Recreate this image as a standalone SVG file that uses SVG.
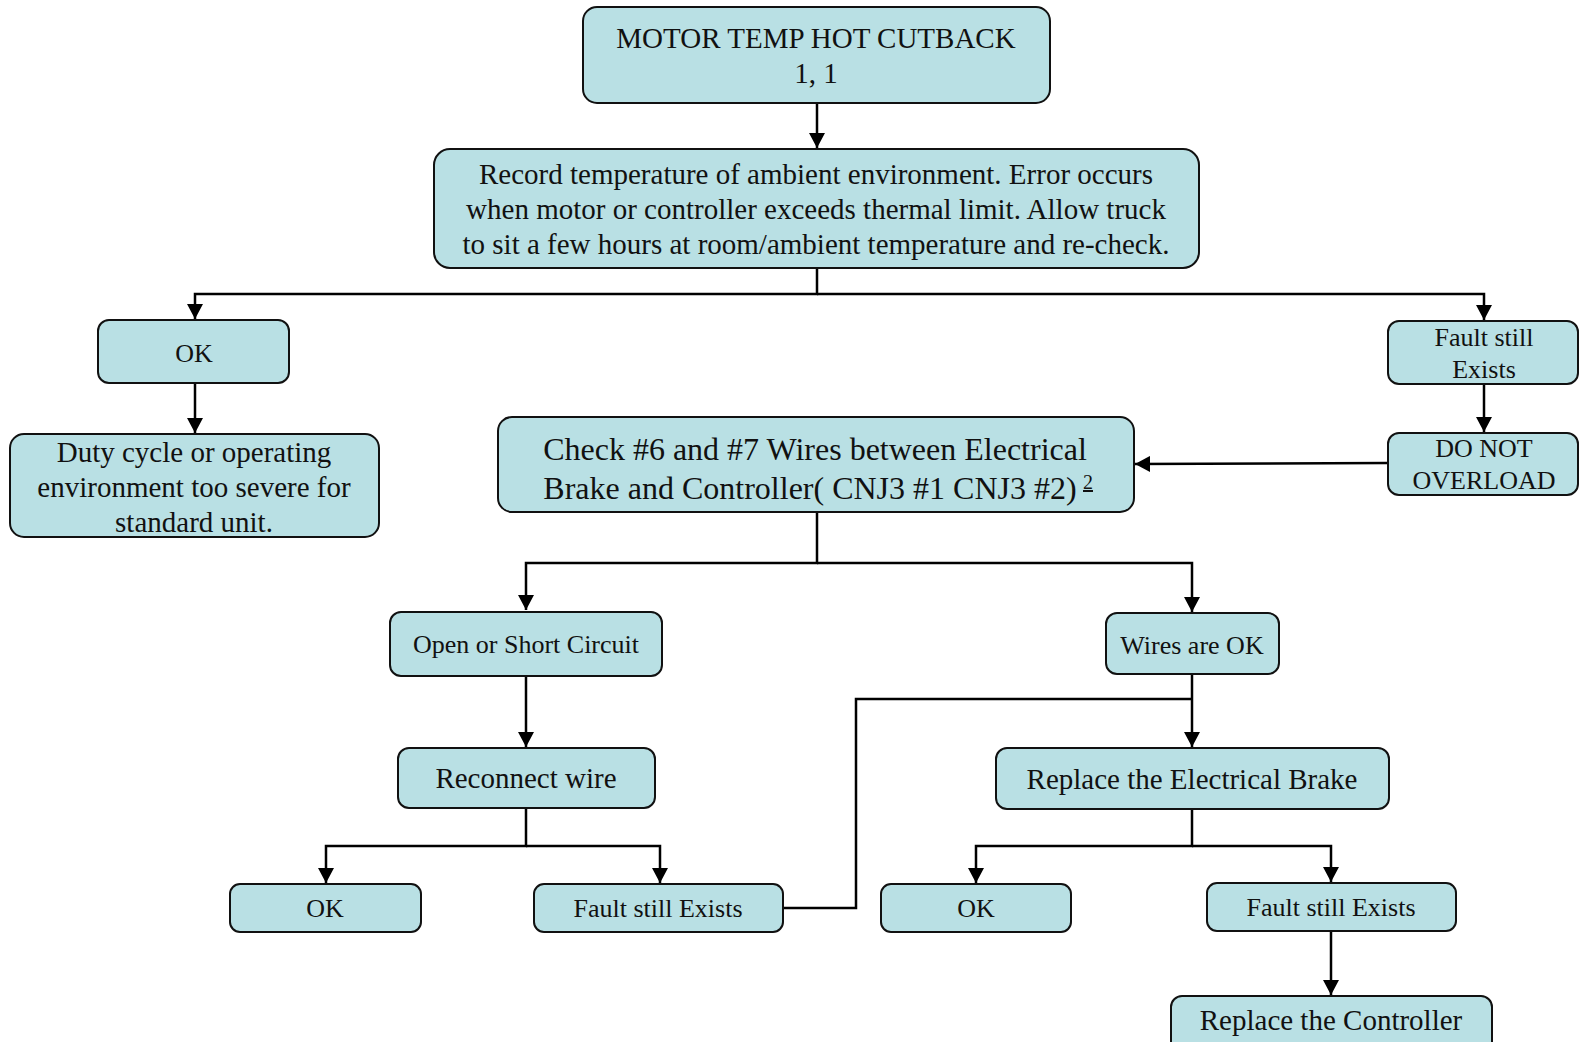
<svg xmlns="http://www.w3.org/2000/svg" width="1579" height="1042" viewBox="0 0 1579 1042">
  <style>
    .box { fill: #b9e0e4; stroke: #111; stroke-width: 2; }
    .t { font-family: "Liberation Serif", "Times New Roman", serif; fill: #111; text-anchor: middle; }
    .f29 { font-size: 29px; }
    .f26 { font-size: 26px; }
    .f32 { font-size: 32px; }
    .wire { fill: none; stroke: #000; stroke-width: 2.5; }
  </style>
  <defs>
    <marker id="arrow" markerUnits="userSpaceOnUse" markerWidth="15" markerHeight="16" refX="15" refY="8" orient="auto">
      <path d="M0,0 L15,8 L0,16 z" fill="#000"/>
    </marker>
  </defs>

  <rect width="1579" height="1042" fill="#fff"/>

  <!-- connectors -->
  <g id="connectors">
    <path class="wire" d="M817,103 V148" marker-end="url(#arrow)"/>
    <path class="wire" d="M817,268 V294 H195 V319" marker-end="url(#arrow)"/>
    <path class="wire" d="M817,294 H1484 V320" marker-end="url(#arrow)"/>
    <path class="wire" d="M195,383 V433" marker-end="url(#arrow)"/>
    <path class="wire" d="M1484,384 V432" marker-end="url(#arrow)"/>
    <path class="wire" d="M1388,463 L1135,464" marker-end="url(#arrow)"/>
    <path class="wire" d="M817,512 V563 H526 V610" marker-end="url(#arrow)"/>
    <path class="wire" d="M817,563 H1192 V612" marker-end="url(#arrow)"/>
    <path class="wire" d="M526,676 V747" marker-end="url(#arrow)"/>
    <path class="wire" d="M1192,674 V747" marker-end="url(#arrow)"/>
    <path class="wire" d="M783,908 H856 V699 H1192"/>
    <path class="wire" d="M526,808 V846 H326 V883" marker-end="url(#arrow)"/>
    <path class="wire" d="M526,846 H660 V883" marker-end="url(#arrow)"/>
    <path class="wire" d="M1192,809 V846 H976 V883" marker-end="url(#arrow)"/>
    <path class="wire" d="M1192,846 H1331 V882" marker-end="url(#arrow)"/>
    <path class="wire" d="M1331,931 V995" marker-end="url(#arrow)"/>
  </g>

  <!-- nodes -->
  <g id="n-title">
    <rect class="box" x="583" y="7" width="467" height="96" rx="14"/>
    <text class="t f29" x="816" y="48">MOTOR TEMP HOT CUTBACK</text>
    <text class="t f29" x="816" y="83">1, 1</text>
  </g>

  <g id="n-record">
    <rect class="box" x="434" y="149" width="765" height="119" rx="16"/>
    <text class="t f29" x="816" y="184">Record temperature of ambient environment. Error occurs</text>
    <text class="t f29" x="816" y="219">when motor or controller exceeds thermal limit. Allow truck</text>
    <text class="t f29" x="816" y="254">to sit a few hours at room/ambient temperature and re-check.</text>
  </g>

  <g id="n-ok1">
    <rect class="box" x="98" y="320" width="191" height="63" rx="11"/>
    <text class="t f26" x="194" y="362">OK</text>
  </g>

  <g id="n-duty">
    <rect class="box" x="10" y="434" width="369" height="103" rx="14"/>
    <text class="t f29" x="194" y="462">Duty cycle or operating</text>
    <text class="t f29" x="194" y="497">environment too severe for</text>
    <text class="t f29" x="194" y="532">standard unit.</text>
  </g>

  <g id="n-fault1">
    <rect class="box" x="1388" y="321" width="190" height="63" rx="11"/>
    <text class="t f26" x="1484" y="346">Fault still</text>
    <text class="t f26" x="1484" y="378">Exists</text>
  </g>

  <g id="n-overload">
    <rect class="box" x="1388" y="433" width="190" height="62" rx="11"/>
    <text class="t f26" x="1484" y="457">DO NOT</text>
    <text class="t f26" x="1484" y="489">OVERLOAD</text>
  </g>

  <g id="n-check">
    <rect class="box" x="498" y="417" width="636" height="95" rx="14"/>
    <text class="t f32" x="815" y="460">Check #6 and #7 Wires between Electrical</text>
    <text class="t f32" x="810" y="499">Brake and Controller( CNJ3 #1 CNJ3 #2)</text>
    <text class="t" x="1088" y="489" font-size="20" text-decoration="underline">2</text>
  </g>

  <g id="n-open">
    <rect class="box" x="390" y="612" width="272" height="64" rx="11"/>
    <text class="t f26" x="526" y="653">Open or Short Circuit</text>
  </g>

  <g id="n-wiresok">
    <rect class="box" x="1106" y="613" width="173" height="61" rx="11"/>
    <text class="t f26" x="1192" y="654">Wires are OK</text>
  </g>

  <g id="n-reconnect">
    <rect class="box" x="398" y="748" width="257" height="60" rx="11"/>
    <text class="t f29" x="526" y="788">Reconnect wire</text>
  </g>

  <g id="n-brake">
    <rect class="box" x="996" y="748" width="393" height="61" rx="11"/>
    <text class="t f29" x="1192" y="789">Replace the Electrical Brake</text>
  </g>

  <g id="n-ok2">
    <rect class="box" x="230" y="884" width="191" height="48" rx="10"/>
    <text class="t f26" x="325" y="917">OK</text>
  </g>

  <g id="n-fault2">
    <rect class="box" x="534" y="884" width="249" height="48" rx="10"/>
    <text class="t f26" x="658" y="917">Fault still Exists</text>
  </g>

  <g id="n-ok3">
    <rect class="box" x="881" y="884" width="190" height="48" rx="10"/>
    <text class="t f26" x="976" y="917">OK</text>
  </g>

  <g id="n-fault3">
    <rect class="box" x="1207" y="883" width="249" height="48" rx="10"/>
    <text class="t f26" x="1331" y="916">Fault still Exists</text>
  </g>

  <g id="n-controller">
    <rect class="box" x="1171" y="996" width="321" height="60" rx="11"/>
    <text class="t f29" x="1331" y="1030">Replace the Controller</text>
  </g>
</svg>
